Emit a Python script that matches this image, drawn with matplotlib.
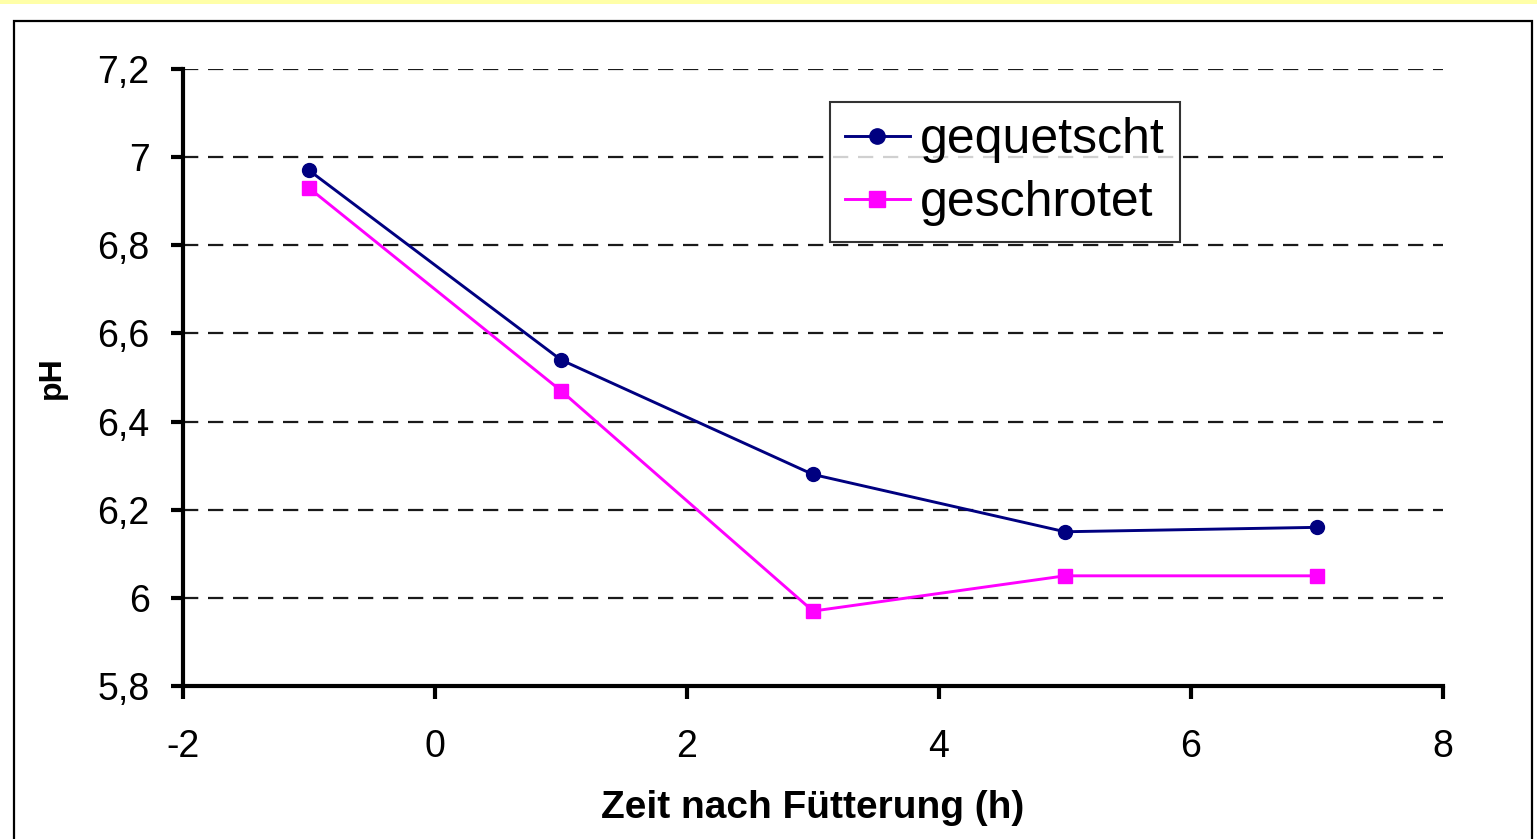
import numpy as np
import matplotlib
matplotlib.use("Agg")
import matplotlib.pyplot as plt
from matplotlib.patches import Rectangle
from matplotlib.ticker import FuncFormatter

# data
zeit = [-1, 1, 3, 5, 7]
gequetscht = [6.97, 6.54, 6.28, 6.15, 6.16]
geschrotet = [6.93, 6.47, 5.97, 6.05, 6.05]
xticks = [-2, 0, 2, 4, 6, 8]
yticks = [5.8, 6.0, 6.2, 6.4, 6.6, 6.8, 7.0, 7.2]

plt.rcParams['font.family'] = ['Liberation Sans', 'DejaVu Sans']
plt.rcParams['lines.scale_dashes'] = False

W, H = 1537, 839
fig = plt.figure(figsize=(W / 100, H / 100), dpi=100)
fig.patch.set_facecolor('white')

# yellow strip at top and outer frame
fig.patches.append(Rectangle((0, 1 - 4 / H), 1, 4 / H, transform=fig.transFigure,
                             facecolor='#FFFFA8', edgecolor='none'))
fig.patches.append(Rectangle((14 / W, -0.05), (1532 - 14) / W, 1.05 - 21 / H,
                             transform=fig.transFigure, facecolor='none',
                             edgecolor='black', linewidth=1.6))

ax = fig.add_axes([183 / W, 1 - 686 / H, (1443 - 183) / W, (686 - 69) / H])

for y in yticks[1:]:
    ax.axhline(y, color='#1a1a1a', linewidth=1.6, dashes=(11, 7), zorder=1)

ax.plot(zeit, gequetscht, color='#000080', linewidth=2.1, marker='o',
        markersize=10, label='gequetscht', zorder=3)
ax.plot(zeit, geschrotet, color='#FF00FF', linewidth=2.1, marker='s',
        markersize=10, label='geschrotet', zorder=3)

ax.set_xlim(-2, 8)
ax.set_ylim(5.8, 7.2)
ax.set_xticks(xticks)
ax.set_yticks(yticks)
fmt = FuncFormatter(lambda v, p: '{:g}'.format(round(v, 1)).replace('.', ','))
ax.xaxis.set_major_formatter(fmt)
ax.yaxis.set_major_formatter(fmt)

for s in ['top', 'right']:
    ax.spines[s].set_visible(False)
for s in ['left', 'bottom']:
    ax.spines[s].set_linewidth(3)
ax.tick_params(axis='both', direction='out', length=9, width=3, labelsize=27,
               colors='black')
ax.tick_params(axis='x', pad=22)
ax.tick_params(axis='y', pad=15)

ax.set_xlabel('Zeit nach Fütterung (h)', fontsize=28, fontweight='bold', labelpad=18)
ax.set_ylabel('pH', fontsize=23, fontweight='bold', labelpad=22)

leg = ax.legend(loc='upper left', bbox_to_anchor=((830 - 183) / 1260, 1 - (102 - 69) / 617),
                fontsize=36, frameon=True, fancybox=False, borderpad=0.3,
                handlelength=1.3, handletextpad=0.2, labelspacing=0.35,
                borderaxespad=0, markerscale=1.1)
leg.get_frame().set_edgecolor('black')
leg.get_frame().set_linewidth(1.5)

fig.savefig('out.png', dpi=100)
